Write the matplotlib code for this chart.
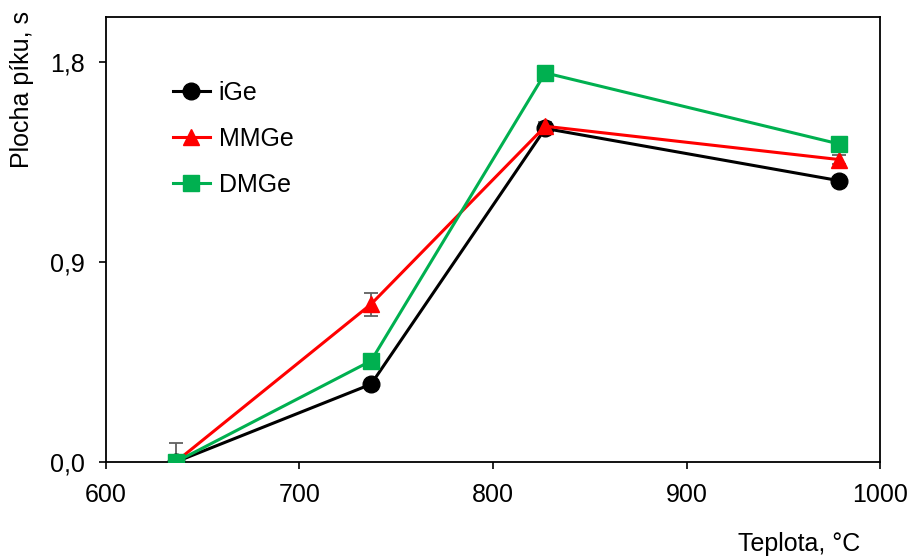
import matplotlib
matplotlib.use('Agg')
import matplotlib.pyplot as plt

# data
teplota = [636, 737, 827, 979]
ige = [0.0, 0.35, 1.50, 1.265]
mmge = [0.0, 0.71, 1.51, 1.36]
dmge = [0.0, 0.455, 1.75, 1.43]
ige_err = [0.0, 0.0, 0.02, 0.0]
mmge_err = [0.0, 0.052, 0.02, 0.02]
dmge_err = [0.086, 0.0, 0.0, 0.0]

plt.rcParams['font.family'] = ['Liberation Sans', 'DejaVu Sans']

fig = plt.figure(figsize=(9.13, 5.58), dpi=100)
ax = fig.add_axes([0.116, 0.172, 0.848, 0.797])

err_kw = dict(fmt='none', ecolor='#606060', elinewidth=1.3, capsize=5, capthick=1.3, zorder=1)
ax.errorbar(teplota, ige, yerr=ige_err, **err_kw)
ax.errorbar(teplota, mmge, yerr=mmge_err, **err_kw)
ax.errorbar(teplota, dmge, yerr=dmge_err, **err_kw)

ax.plot(teplota, ige, color='black', lw=2.2, marker='o', ms=12, label='iGe', zorder=3)
ax.plot(teplota, mmge, color='#ff0000', lw=2.2, marker='^', ms=12, label='MMGe', zorder=4)
ax.plot(teplota, dmge, color='#00b050', lw=2.2, marker='s', ms=11.5, label='DMGe', zorder=5)

ax.set_xlim(600, 1000)
ax.set_ylim(0, 2.0)
ax.set_xticks([600, 700, 800, 900, 1000])
ax.set_yticks([0.0, 0.9, 1.8])
ax.set_yticklabels(['0,0', '0,9', '1,8'])
ax.tick_params(direction='out', length=5, width=1.2, labelsize=18, pad=10)
for s in ax.spines.values():
    s.set_linewidth(1.3)

ax.set_ylabel('Plocha píku, s', fontsize=18)
ax.yaxis.set_label_coords(-0.093, 0.838)
ax.set_xlabel('Teplota, °C', fontsize=18)
ax.xaxis.set_label_coords(0.895, -0.157)

ax.legend(loc='upper left', bbox_to_anchor=(0.057, 0.907), frameon=False, fontsize=18,
          handlelength=1.5, labelspacing=0.87, handletextpad=0.35)

fig.savefig('out.png', dpi=100)
